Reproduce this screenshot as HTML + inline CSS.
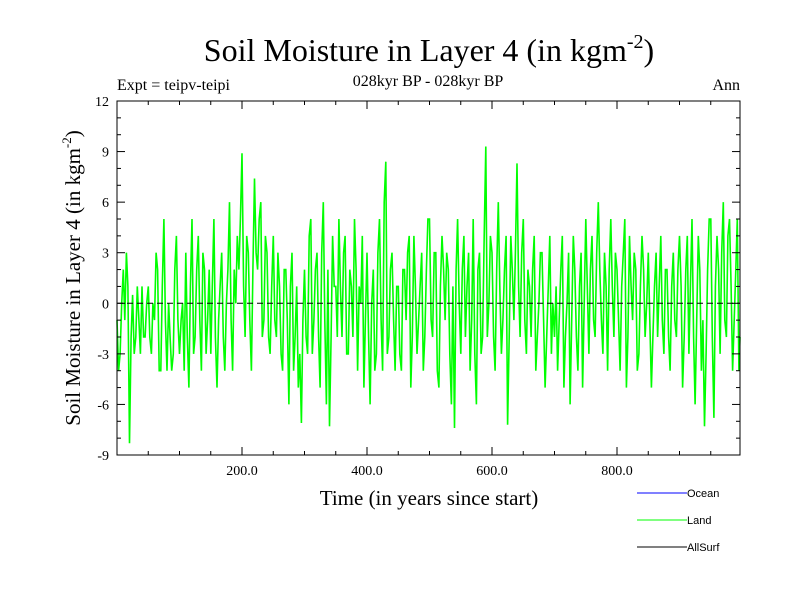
<!DOCTYPE html>
<html><head><meta charset="utf-8"><style>
body{margin:0;background:#fff;}
svg text{font-family:"Liberation Serif",serif;}
</style></head><body>
<svg id="chart" width="800" height="600" xmlns="http://www.w3.org/2000/svg">
<rect width="800" height="600" fill="#fff"/>
<text x="429" y="61" font-size="32" text-anchor="middle">Soil Moisture in Layer 4 (in kgm<tspan font-size="20" dy="-13">-2</tspan><tspan dy="13">)</tspan></text>
<text x="428" y="86" font-size="16" text-anchor="middle">028kyr BP - 028kyr BP</text>
<text x="117" y="90" font-size="16">Expt = teipv-teipi</text>
<text x="740" y="90" font-size="16" text-anchor="end">Ann</text>
<text x="429" y="505" font-size="21" text-anchor="middle">Time (in years since start)</text>
<text transform="translate(80,278) rotate(-90)" font-size="21" text-anchor="middle">Soil Moisture in Layer 4 (in kgm<tspan font-size="13" dy="-9">-2</tspan><tspan dy="9">)</tspan></text>
<g id="plot"></g>
<g font-size="11">
<line x1="637" y1="493" x2="687" y2="493" stroke="#0000ff"/>
<text x="687" y="497" style="font-family:'Liberation Sans',sans-serif">Ocean</text>
<line x1="637" y1="520" x2="687" y2="520" stroke="#00ff00"/>
<text x="687" y="524" style="font-family:'Liberation Sans',sans-serif">Land</text>
<line x1="637" y1="547" x2="687" y2="547" stroke="#000"/>
<text x="687" y="551" style="font-family:'Liberation Sans',sans-serif">AllSurf</text>
</g>
</svg>
<script>
const yTicks=[-9,-6,-3,0,3,6,9,12];
const xTickLabels=[200,400,600,800];
const landValues=[
-1,-4,-3,0,2,-1,3,1,-8.3,-2,0.5,-3,-2,1,-1,-3,1,-2,-2,0,
1,-2,-3,0,-1,3,2,-4,-4,1,5,-1,-4,0,-2,-4,-3,2,4,-1,
-3,-1,0,-4,3,-2,-5,1,5,-3,-2,2,4,-1,-4,3,2,-3,-1,2,
-3,1,5,-2,-5,-1,1,3,-2,-4,0,2,6,-1,-4,2,0,4,2,5,
8.9,1,-2,4,3,-1,-4,2,7.4,3,2,5,6,-2,-1,4,3,-2,-3,1,
4,-1,-2,3,1,-3,-4,2,2,-1,-6,1,3,-4,-2,1,-5,-3,-7.1,-1,
2,-2,-3,4,5,-3,-1,2,3,-2,-5,3,6,-1,-6,2,-7.3,-2,4,1,
1,-2,5,1,-2,3,4,-3,-3,2,1,-2,5,2,-4,1,0,4,-5,-1,
3,-2,-6,0,2,-4,-3,3,5,-1,-4,6,8.4,-3,-2,2,3,-1,-4,1,
1,-3,-4,2,2,-1,3,4,-5,-2,4,1,-3,-1,1,3,-4,-2,2,5,
5,-1,-2,3,3,-4,-5,1,4,2,-1,3,2,-3,-6,1,-7.4,2,5,0,
-3,2,4,-2,1,3,-4,-1,5,-3,-6,2,3,-3,-2,4,9.3,-2,0,4,
3,-2,-4,2,6,1,-3,-1,2,4,-7.2,-2,4,2,-1,3,8.3,1,-2,3,
5,-1,-3,2,1,-2,2,4,-4,-2,0,3,3,-1,-5,-2,1,4,-3,0,
-2,1,-4,-1,2,4,-5,-2,0,3,-6,-1,4,2,-2,-4,1,3,-5,0,
5,1,-3,2,4,-1,-2,3,6,2,-1,-3,3,1,-4,2,5,1,-2,3,
2,-1,-4,1,3,5,-5,-2,4,1,-1,3,2,-4,-3,1,4,2,-2,0,
3,-1,-5,-2,1,3,-2,1,4,-1,-3,2,2,-2,-4,1,3,-1,-2,2,
4,1,-5,-2,2,4,-3,1,5,-2,-6,-1,4,2,-4,-1,-7.3,-3,2,5,
5,-2,-6.8,1,4,2,-3,3,6,-1,-2,4,5,1,-4,-1,2,5,-4,-2];
const yearStep=2.5;
const L=117,R=740,T=101,B=455;
const xS=v=>L+(v/1000)*(742-L);
const yS=v=>B-(v+9)/21*(B-T);
const NS="http://www.w3.org/2000/svg";
const g=document.getElementById('plot');
function mk(t,a){const e=document.createElementNS(NS,t);for(const k in a)e.setAttribute(k,a[k]);g.appendChild(e);return e;}
let d=landValues.map((v,i)=>(i?'L':'M')+Math.min(xS(i*yearStep),R).toFixed(1)+' '+yS(v).toFixed(1)).join(' ');
const p=mk('path',{d:d,fill:'none',stroke:'#00ff00','stroke-width':1.6});


const z=mk('line',{x1:L,x2:R,y1:yS(0),y2:yS(0),stroke:'#000','stroke-dasharray':'6,4'});


const f=mk('rect',{x:L,y:T,width:R-L,height:B-T,fill:'none',stroke:'#000'});


for(let v=-9;v<=12;v++){const y=yS(v);const len=(v%3===0)?8:4;
mk('line',{x1:L,x2:L+len,y1:y,y2:y,stroke:'#000'});mk('line',{x1:R,x2:R-len,y1:y,y2:y,stroke:'#000'});}
yTicks.forEach(v=>{const t=mk('text',{x:L-8,y:yS(v)+5,'font-size':14,'text-anchor':'end'});t.textContent=v;

});
for(let v=50;v<1000;v+=50){const x=xS(v);const len=(v%200===0)?8:4;
mk('line',{x1:x,x2:x,y1:B,y2:B-len,stroke:'#000'});mk('line',{x1:x,x2:x,y1:T,y2:T+len,stroke:'#000'});}
xTickLabels.forEach(v=>{const t=mk('text',{x:xS(v),y:B+20,'font-size':14,'text-anchor':'middle'});t.textContent=v.toFixed(1);

});
</script>
</body></html>
